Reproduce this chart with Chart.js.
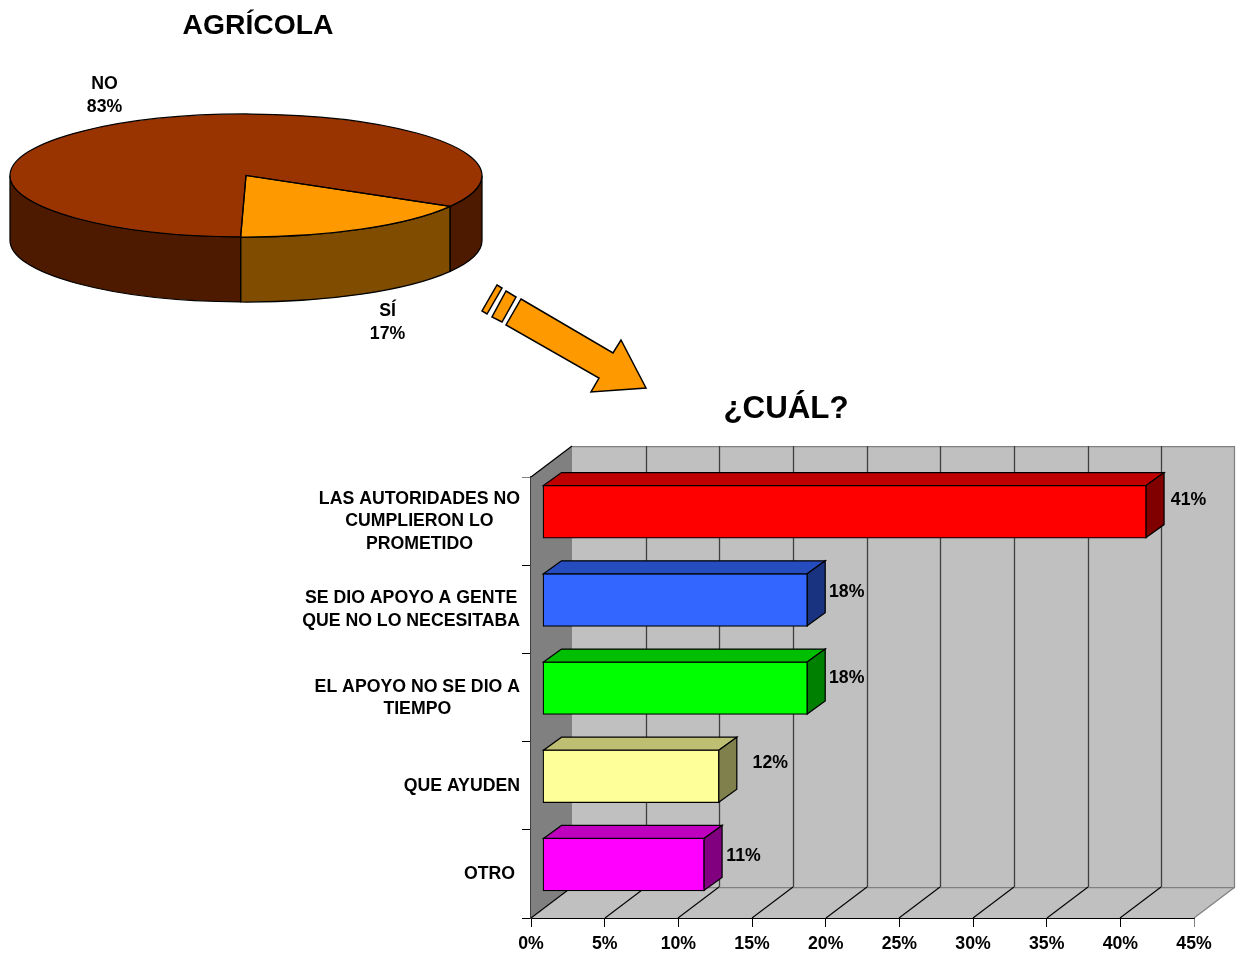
<!DOCTYPE html>
<html lang="es">
<head>
<meta charset="utf-8">
<title>Agrícola</title>
<script src="https://cdn.jsdelivr.net/npm/chart.js@4"></script>
<style>
html,body{margin:0;padding:0;background:#fff;overflow:hidden}
#stage{position:relative;width:1237px;height:955px}
canvas{position:absolute;left:0;top:0}
</style>
</head>
<body>
<div id="stage">
<canvas id="barChart" width="1237" height="955"></canvas>
<canvas id="pieChart" width="1237" height="955"></canvas>
</div>
<script>
// ---- data ----
const pieTitle = 'AGRÍCOLA';
const pieLabels = ['SÍ', 'NO'];
const pieValues = [17, 83];
const pieColors = ['#ff9900', '#993300'];

const barTitle = '¿CUÁL?';
const barLabels = [
  ['LAS AUTORIDADES NO', 'CUMPLIERON LO', 'PROMETIDO'],
  ['SE DIO APOYO A GENTE', 'QUE NO LO NECESITABA'],
  ['EL APOYO NO SE DIO A', 'TIEMPO'],
  ['QUE AYUDEN'],
  ['OTRO ']
];
const barValues = [41, 18, 18, 12, 11];
const barColors = ['#ff0000', '#3366ff', '#00ff00', '#ffff99', '#ff00ff'];
const axisMax = 45;
const axisStep = 5;

// ---- styling constants ----
const FONT = '"Liberation Sans", Arial, sans-serif';
const LABEL_PX = 17.7;
const animation = false;

function shade(hex, f) {
  const n = parseInt(hex.slice(1), 16);
  const c = s => Math.round(((n >> s) & 255) * f);
  return `rgb(${c(16)},${c(8)},${c(0)})`;
}
function text(ctx, str, x, y, px, align) {
  ctx.font = `bold ${px}px ${FONT}`;
  ctx.fillStyle = '#000';
  ctx.textAlign = align || 'center';
  ctx.textBaseline = 'middle';
  ctx.fillText(str, x, y);
}
function poly(ctx, pts, fill, stroke, lw) {
  ctx.beginPath();
  pts.forEach((p, i) => i ? ctx.lineTo(p[0], p[1]) : ctx.moveTo(p[0], p[1]));
  ctx.closePath();
  if (fill) { ctx.fillStyle = fill; ctx.fill(); }
  if (stroke) { ctx.strokeStyle = stroke; ctx.lineWidth = lw || 1; ctx.stroke(); }
}
function line(ctx, x1, y1, x2, y2, color, lw) {
  ctx.beginPath();
  ctx.moveTo(x1, y1);
  ctx.lineTo(x2, y2);
  ctx.strokeStyle = color;
  ctx.lineWidth = lw || 1;
  ctx.stroke();
}

// ---- pie: flattened into a disc with a side wall ----
const DISC_CY = 175.5, DISC_K = 0.2606, DISC_DEPTH = 65, EDGE = 1.25;
const piePlugin = {
  id: 'disc',
  beforeDatasetsDraw(chart) {
    const ctx = chart.ctx;
    const arcs = chart.getDatasetMeta(0).data;
    const TAU = Math.PI * 2;
    ctx.save();
    arcs.forEach((a, i) => {
      const rx = a.outerRadius, ry = rx * DISC_K;
      [0, TAU, -TAU].forEach(off => {
        const s = Math.max(a.startAngle, off), e = Math.min(a.endAngle, off + Math.PI);
        if (e <= s) return;
        ctx.beginPath();
        ctx.ellipse(a.x, DISC_CY, rx, ry, 0, s, e);
        ctx.ellipse(a.x, DISC_CY + DISC_DEPTH, rx, ry, 0, e, s, true);
        ctx.closePath();
        ctx.fillStyle = shade(pieColors[i], 0.5);
        ctx.fill();
        ctx.strokeStyle = '#000';
        ctx.lineWidth = EDGE;
        ctx.stroke();
      });
    });
    ctx.restore();
    ctx.save();
    const a0 = arcs[0];
    ctx.translate(0, DISC_CY);
    ctx.scale(1, DISC_K);
    ctx.translate(0, -a0.y);
  },
  afterDatasetsDraw(chart) {
    const ctx = chart.ctx;
    ctx.restore();
    chart.getDatasetMeta(0).data.forEach(a => {
      ctx.beginPath();
      ctx.moveTo(a.x, DISC_CY);
      ctx.ellipse(a.x, DISC_CY, a.outerRadius, a.outerRadius * DISC_K, 0, a.startAngle, a.endAngle);
      ctx.closePath();
      ctx.strokeStyle = '#000';
      ctx.lineWidth = EDGE;
      ctx.stroke();
    });
  },
  afterDraw(chart) {
    const ctx = chart.ctx;
    text(ctx, pieTitle, 258, 26, 28.3);
    const spots = [[387.5, 311], [104.5, 84]];
    pieLabels.forEach((l, i) => {
      text(ctx, l, spots[i][0], spots[i][1], LABEL_PX);
      text(ctx, pieValues[i] + '%', spots[i][0], spots[i][1] + 23, LABEL_PX);
    });
  }
};

new Chart(document.getElementById('pieChart'), {
  type: 'pie',
  data: {
    labels: pieLabels,
    datasets: [{ data: pieValues, backgroundColor: pieColors, borderWidth: 0, clip: false }]
  },
  plugins: [piePlugin],
  options: {
    responsive: false,
    animation,
    rotation: 120.1,
    layout: { padding: { left: 10, right: 755, top: 0, bottom: 463 } },
    plugins: { legend: { display: false }, tooltip: { enabled: false } }
  }
});

// ---- bars: box with walls, prisms drawn on the library's bar elements ----
const WALL_DX = 41, WALL_DY = 31;
const BAR_SHIFT_X = 11.5, BAR_SHIFT_Y = -9.5;
const FACE_DX = 18, FACE_DY = -13;
const valueLabelOffsets = [[24.5, -12], [21.5, -9], [21.5, -11], [33.5, -14], [21.5, -9]];

const barPlugin = {
  id: 'box3d',
  beforeDatasetsDraw(chart) {
    const ctx = chart.ctx, { left, right, top, bottom } = chart.chartArea;
    const xs = chart.scales.x;
    const wx = WALL_DX, wy = WALL_DY;
    // back wall, side wall, floor
    poly(ctx, [[left + wx, top - wy], [right + wx, top - wy], [right + wx, bottom - wy], [left + wx, bottom - wy]], '#c0c0c0');
    poly(ctx, [[left, top], [left + wx, top - wy], [left + wx, bottom - wy], [left, bottom]], '#808080');
    poly(ctx, [[left, bottom], [left + wx, bottom - wy], [right + wx, bottom - wy], [right, bottom]], '#c0c0c0');
    line(ctx, left + wx, top - wy + 0.5, right + wx, top - wy + 0.5, '#808080', 1.25);
    line(ctx, right + wx - 0.5, top - wy, right + wx - 0.5, bottom - wy, '#808080', 1.25);
    line(ctx, left, top, left + wx, top - wy, '#000', 1.25);
    line(ctx, left + wx, bottom - wy + 0.5, right + wx, bottom - wy + 0.5, '#808080', 1.25);
    line(ctx, right, bottom, right + wx, bottom - wy, '#808080', 1.25);
    xs.ticks.forEach(t => {
      const x = Math.round(xs.getPixelForValue(t.value));
      if (t.value < axisMax) {
        line(ctx, x, bottom, x + wx, bottom - wy, '#000', 1.1);
      }
      if (t.value > 0 && t.value < axisMax) {
        line(ctx, x + wx + 0.5, top - wy, x + wx + 0.5, bottom - wy, '#404040', 1.3);
      }
    });
    ctx.save();
    ctx.translate(BAR_SHIFT_X, BAR_SHIFT_Y);
  },
  afterDatasetsDraw(chart) {
    const ctx = chart.ctx;
    ctx.restore();
    chart.getDatasetMeta(0).data.forEach((b, i) => {
      const l = b.base + BAR_SHIFT_X + 0.5, r = b.x + BAR_SHIFT_X - 0.5;
      const t = b.y - b.height / 2 + BAR_SHIFT_Y + 0.5, u = b.y + b.height / 2 + BAR_SHIFT_Y - 0.5;
      const dx = FACE_DX, dy = FACE_DY;
      poly(ctx, [[l, t], [l + dx, t + dy], [r + dx, t + dy], [r, t]], shade(barColors[i], 0.75), '#000', EDGE);
      poly(ctx, [[r, t], [r + dx, t + dy], [r + dx, u + dy], [r, u]], shade(barColors[i], 0.5), '#000', EDGE);
      const off = valueLabelOffsets[i];
      text(ctx, barValues[i] + '%', r + dx + off[0], b.y + BAR_SHIFT_Y + off[1] + 1, LABEL_PX);
    });
  },
  afterDraw(chart) {
    const ctx = chart.ctx, ys = chart.scales.y;
    text(ctx, barTitle, 786, 409, 31.3);
    barLabels.forEach((lines, i) => {
      ctx.font = `bold ${LABEL_PX}px ${FONT}`;
      const w = Math.max(...lines.map(s => ctx.measureText(s).width));
      const cx = 520 - w / 2, cy = ys.getPixelForValue(i) + 0.5, lh = 22.4;
      lines.forEach((s, j) => text(ctx, s, cx, cy + (j - (lines.length - 1) / 2) * lh, LABEL_PX));
    });
    // connector arrow between the two charts
    const edge = '#000', fill = '#ff9900';
    poly(ctx, [[497, 285], [502, 288], [487, 314], [482, 311]], fill, edge, 1.5);
    poly(ctx, [[506, 291], [516, 297], [502, 322], [492, 317]], fill, edge, 1.5);
    poly(ctx, [[521, 299], [613, 353], [621, 340], [646, 388], [591, 392], [599, 378], [506, 325]], fill, edge, 1.5);
  }
};

new Chart(document.getElementById('barChart'), {
  type: 'bar',
  data: {
    labels: barLabels,
    datasets: [{
      data: barValues,
      backgroundColor: barColors,
      borderColor: '#000',
      borderWidth: 1.25,
      borderSkipped: false,
      barThickness: 53,
      clip: false
    }]
  },
  plugins: [barPlugin],
  options: {
    responsive: false,
    animation,
    indexAxis: 'y',
    layout: { padding: { left: 0, right: 43, top: 477, bottom: 0 } },
    plugins: { legend: { display: false }, tooltip: { enabled: false } },
    scales: {
      x: {
        min: 0,
        max: axisMax,
        afterFit: s => { s.height = 37; },
        border: { color: '#000', width: 1 },
        grid: {
          drawOnChartArea: false,
          tickLength: 9,
          tickColor: c => (c.tick && c.tick.value === axisMax ? '#808080' : '#000')
        },
        ticks: {
          stepSize: axisStep,
          autoSkip: false,
          maxRotation: 0,
          padding: 6,
          color: '#000',
          font: { family: FONT, size: LABEL_PX, weight: 'bold' },
          callback: v => v + '%'
        }
      },
      y: {
        afterFit: s => { s.width = 531; },
        border: { color: '#404040', width: 2 },
        grid: {
          drawOnChartArea: false,
          tickLength: 9,
          tickColor: c => (c.index === 0 ? '#808080' : '#000')
        },
        ticks: { display: false }
      }
    }
  }
});
</script>
</body>
</html>
